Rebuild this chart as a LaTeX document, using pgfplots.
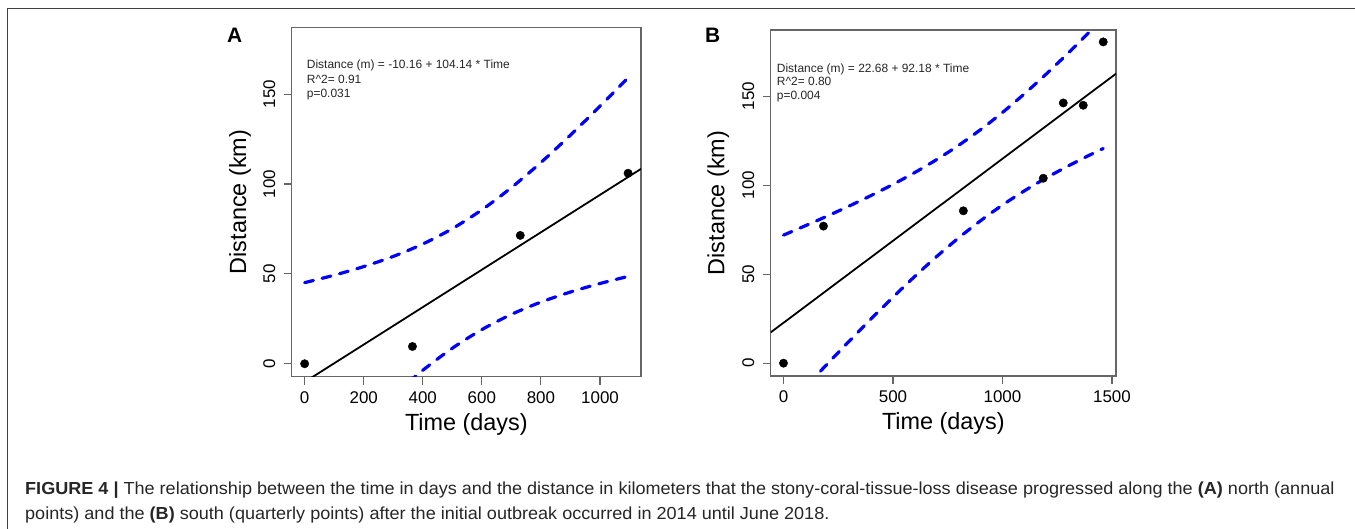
\documentclass[border=0pt]{standalone}
\usepackage{fontspec}
\setmainfont{Liberation Sans}
\usepackage{pgfplots}
\pgfplotsset{compat=1.18}

\tikzset{
  note/.style={anchor=base west, inner sep=0pt, text=black!85, font=\fontsize{12}{12}\selectfont},
  capline/.style={anchor=base west, inner sep=0pt, text=black!85, font=\fontsize{17.5}{17.5}\selectfont, transform shape, xscale=1.036},
}
\pgfplotsset{
  rplot/.style={
    scale only axis,
    anchor=south west,
    axis line style={draw=black!60, line width=1.1bp},
    tick style={draw=black!60, line width=1.1bp},
    tick align=outside,
    major tick length=8bp,
    xtick pos=bottom, ytick pos=left,
    ymin=-7.2, ymax=187.2,
    ytick={0,50,100,150},
    scaled ticks=false,
    /pgf/number format/1000 sep={},
    /pgf/number format/assume math mode=true,
    tick label style={font=\fontsize{17}{17}\selectfont},
    xticklabel style={anchor=base},
    yticklabel style={rotate=90, anchor=base},
    xticklabel shift=18.6bp,
    yticklabel shift=8.7bp,
    label style={font=\fontsize{23.5}{23.5}\selectfont},
    xlabel={Time (days)},
    ylabel={Distance (km)},
  },
  band/.style={blue, line width=3.2bp, line cap=round, dash pattern=on 9bp off 9bp, smooth},
  fit/.style={black, line width=1.8bp},
  pts/.style={only marks, mark=*, mark size=4.2bp, mark options={fill=black, draw=black}},
}

\begin{document}
\begin{tikzpicture}[x=1bp,y=1bp]
\path[use as bounding box] (0,0) rectangle (1355,529);
\draw[black!75, line width=1.5bp] (7.5,0) -- (7.5,520.5) -- (1355,520.5);

% panel A: north, annual points
\begin{axis}[rplot,
  at={(291.7bp,152.3bp)}, width=349.3bp, height=349.4bp,
  xmin=-43.8, xmax=1138.8,
  xtick={0,200,400,600,800,1000},
  xlabel style={at={(axis description cs:0.5,-0.1546)}, anchor=base},
  ylabel style={at={(axis description cs:-0.1308,0.5)}, anchor=base},
]
\addplot[band] coordinates {(0,45.12)(100,49.28)(200,54.06)(300,59.72)(400,66.63)(500,75.17)(600,85.63)(700,98.01)(800,112.0)(900,127.22)(1000,143.31)(1095,159.15)};
\addplot[band] coordinates {(0,-65.44)(100,-48.77)(200,-32.72)(300,-17.56)(400,-3.63)(500,8.65)(600,19.01)(700,27.47)(800,34.30)(900,39.92)(1000,44.65)(1095,48.59)};
\addplot[fit] coordinates {(-43.8,-14.72)(1138.8,108.43)};
\addplot[pts] coordinates {(0,0)(365,9.6)(730,71.4)(1095,106)};
\node[note] at (rel axis cs:0.043,0.8807) {Distance (m) = -10.16 + 104.14 * Time};
\node[note] at (rel axis cs:0.043,0.8397) {R\^{}2= 0.91};
\node[note] at (rel axis cs:0.043,0.7997) {p=0.031};
\end{axis}

% panel B: south, quarterly points
\begin{axis}[rplot,
  at={(770.7bp,153bp)}, width=345.3bp, height=346bp,
  xmin=-58.4, xmax=1518.4,
  xtick={0,500,1000,1500},
  xlabel style={at={(axis description cs:0.5,-0.154)}, anchor=base},
  ylabel style={at={(axis description cs:-0.1344,0.5)}, anchor=base},
]
\addplot[band] coordinates {(0,71.95)(100,77.24)(200,82.67)(300,88.30)(400,94.21)(500,100.46)(600,107.16)(700,114.44)(800,122.42)(900,131.22)(1000,140.87)(1100,151.33)(1200,162.49)(1300,174.23)(1400,186.42)(1460,193.91)};
\addplot[band] coordinates {(0,-26.59)(100,-13.44)(200,-0.43)(300,12.36)(400,24.89)(500,37.08)(600,48.82)(700,59.98)(800,70.42)(900,80.06)(1000,88.85)(1100,96.83)(1200,104.11)(1300,110.79)(1400,117.04)(1460,120.61)};
\addplot[fit] coordinates {(-58.4,17.30)(1518.4,162.65)};
\addplot[pts] coordinates {(0,0)(182.5,77)(821.25,85.6)(1186.25,103.9)(1277.5,146.2)(1368.75,144.9)(1460,180.5)};
\node[note] at (rel axis cs:0.0174,0.8777) {Distance (m) = 22.68 + 92.18 * Time};
\node[note] at (rel axis cs:0.0174,0.8382) {R\^{}2= 0.80};
\node[note] at (rel axis cs:0.0174,0.7977) {p=0.004};
\end{axis}

% panel letters
\node[anchor=base west, inner sep=0pt, font=\fontsize{21}{21}\selectfont\bfseries] at (227,486) {A};
\node[anchor=base west, inner sep=0pt, font=\fontsize{21}{21}\selectfont\bfseries] at (705,486) {B};

% caption
\node[capline] at (25,34)
  {\textbf{FIGURE 4 |} The relationship between the time in days and the distance in kilometers that the stony-coral-tissue-loss disease progressed along the \textbf{(A)} north (annual};
\node[capline] at (25,9)
  {points) and the \textbf{(B)} south (quarterly points) after the initial outbreak occurred in 2014 until June 2018.};
\end{tikzpicture}
\end{document}
